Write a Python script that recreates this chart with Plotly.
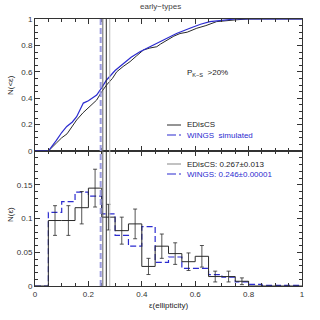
import plotly.graph_objects as go

# ---- data ----
# cumulative distributions (top panel)
cdf_edis_x = [0.0, 0.05, 0.08, 0.10, 0.12, 0.14, 0.156, 0.18, 0.20, 0.231, 0.25, 0.268, 0.29, 0.306, 0.33, 0.356, 0.38, 0.406, 0.43, 0.456, 0.47, 0.493, 0.52, 0.543, 0.57, 0.606, 0.64, 0.68, 0.72, 0.76, 0.80, 1.0]
cdf_edis_y = [0.0, 0.0, 0.06, 0.10, 0.13, 0.19, 0.235, 0.29, 0.33, 0.386, 0.45, 0.50, 0.55, 0.60, 0.64, 0.677, 0.72, 0.765, 0.78, 0.79, 0.81, 0.84, 0.87, 0.89, 0.90, 0.93, 0.95, 0.98, 0.99, 0.995, 1.0, 1.0]
cdf_wings_x = [0.0, 0.05, 0.08, 0.10, 0.119, 0.14, 0.156, 0.181, 0.20, 0.231, 0.25, 0.268, 0.30, 0.331, 0.36, 0.393, 0.43, 0.48, 0.53, 0.58, 0.62, 0.655, 0.70, 0.75, 0.85, 1.0]
cdf_wings_y = [0.0, 0.0, 0.08, 0.14, 0.186, 0.22, 0.26, 0.363, 0.38, 0.424, 0.48, 0.538, 0.61, 0.664, 0.71, 0.752, 0.79, 0.84, 0.89, 0.93, 0.96, 0.98, 0.99, 1.0, 1.0, 1.0]

# histograms (bottom panel), bins of 0.05
bin_edges = [0.0, 0.05, 0.1, 0.15, 0.2, 0.25, 0.3, 0.35, 0.4, 0.45, 0.5, 0.55, 0.6, 0.65, 0.7, 0.75, 0.8, 0.85, 0.9, 0.95, 1.0]
edis_hist = [0.0, 0.097, 0.097, 0.116, 0.145, 0.102, 0.082, 0.092, 0.029, 0.059, 0.048, 0.036, 0.044, 0.014, 0.014, 0.007, 0.0, 0.0, 0.0, 0.0]
edis_err = [0.0, 0.022, 0.022, 0.024, 0.028, 0.019, 0.020, 0.022, 0.012, 0.018, 0.016, 0.013, 0.016, 0.008, 0.008, 0.005, 0.0, 0.0, 0.0, 0.0]
wings_hist = [0.0, 0.109, 0.125, 0.139, 0.133, 0.107, 0.075, 0.059, 0.088, 0.035, 0.043, 0.026, 0.026, 0.017, 0.013, 0.006, 0.0025, 0.001, 0.001, 0.001]

# medians
edis_med, edis_med_err = 0.267, 0.013
wings_med = 0.246

x_ticks = [0, 0.2, 0.4, 0.6, 0.8, 1]
x_ticklabels = ["0", "0.2", "0.4", "0.6", "0.8", "1"]
top_ticks = [0, 0.2, 0.4, 0.6, 0.8, 1]
top_ticklabels = ["0", "0.2", "0.4", "0.6", "0.8", "1"]
bot_ticks = [0, 0.05, 0.1, 0.15]
bot_ticklabels = ["0", "0.05", "0.1", "0.15"]

BLACK = "#2a2a2a"
BLUE = "#2b2bd0"
LBLUE = "#9a9ae0"
FONT = "Liberation Sans"

# plot area in page pixels: x 35..302, y 19..286 (body margin removed via post_script)
PL, PR, PT, PB = 35, 302, 19, 286

fig = go.Figure()

# top panel
fig.add_trace(go.Scatter(x=cdf_edis_x, y=cdf_edis_y, mode="lines", line=dict(color=BLACK, width=1),
                         xaxis="x2", yaxis="y2", showlegend=False))
fig.add_trace(go.Scatter(x=cdf_wings_x, y=cdf_wings_y, mode="lines", line=dict(color=BLUE, width=1.2),
                         xaxis="x2", yaxis="y2", showlegend=False))

# bottom panel histograms
fig.add_trace(go.Scatter(x=bin_edges, y=wings_hist + [wings_hist[-1]], mode="lines",
                         line=dict(color=BLUE, width=1.2, dash="6px,3px"), line_shape="hv",
                         xaxis="x", yaxis="y", showlegend=False))
fig.add_trace(go.Scatter(x=bin_edges, y=edis_hist + [edis_hist[-1]], mode="lines",
                         line=dict(color=BLACK, width=1), line_shape="hv",
                         xaxis="x", yaxis="y", showlegend=False))
centers = [(bin_edges[i] + bin_edges[i + 1]) / 2 for i in range(len(edis_hist))]
cx = [c for c, v in zip(centers, edis_hist) if v > 0]
cy = [v for v in edis_hist if v > 0]
ce = [e for e, v in zip(edis_err, edis_hist) if v > 0]
fig.add_trace(go.Scatter(x=cx, y=cy, mode="lines", line=dict(width=0, color=BLACK),
                         error_y=dict(type="data", array=ce, color=BLACK, thickness=0.8, width=2),
                         xaxis="x", yaxis="y", showlegend=False))

# vertical median lines in both panels
shapes = []
for yref in ["y domain", "y2 domain"]:
    xref = "x" if yref == "y domain" else "x2"
    shapes.append(dict(type="line", xref=xref, yref=yref, x0=wings_med, x1=wings_med, y0=0, y1=1,
                       line=dict(color=LBLUE, width=2, dash="6px,3px")))
    shapes.append(dict(type="line", xref=xref, yref=yref, x0=edis_med - edis_med_err, x1=edis_med - edis_med_err,
                       y0=0, y1=1, line=dict(color="#666666", width=1)))
    shapes.append(dict(type="line", xref=xref, yref=yref, x0=edis_med, x1=edis_med, y0=0, y1=1,
                       line=dict(color=BLACK, width=1)))
    shapes.append(dict(type="line", xref=xref, yref=yref, x0=edis_med + edis_med_err, x1=edis_med + edis_med_err,
                       y0=0, y1=1, line=dict(color="#bbbbbb", width=1)))

# page pixel -> paper coords
def px(x):
    return (x - PL) / (PR - PL)
def py(y):
    return (PB - y) / (PB - PT)

shapes += [
    dict(type="line", xref="paper", yref="paper", x0=px(167), x1=px(181), y0=py(125), y1=py(125),
         line=dict(color=BLACK, width=1)),
    dict(type="line", xref="paper", yref="paper", x0=px(167), x1=px(181), y0=py(135), y1=py(135),
         line=dict(color=BLUE, width=1.2, dash="dashdot")),
    dict(type="line", xref="paper", yref="paper", x0=px(167), x1=px(181), y0=py(164), y1=py(164),
         line=dict(color="#999999", width=1.2)),
    dict(type="line", xref="paper", yref="paper", x0=px(167), x1=px(181), y0=py(174), y1=py(174),
         line=dict(color=BLUE, width=1.2, dash="dashdot")),
]

f = dict(family=FONT, size=8, color="#222222")


def ann(text, x, y, xanchor="left", font=f, **kw):
    return dict(text=text, x=px(x), y=py(y), xref="paper", yref="paper", xanchor=xanchor, yanchor="middle",
                showarrow=False, font=font, **kw)


annotations = [
    ann("early\u2212types", 160, 6, xanchor="center", font=dict(family=FONT, size=8, color="#444444")),
    ann("EDisCS", 185, 125),
    ann("WINGS  simulated", 185, 135, font=dict(family=FONT, size=8, color=BLUE)),
    ann("P<sub>K\u2212S</sub>  >20%", 185, 73),
    ann("EDisCS: 0.267\u00b10.013", 185, 164),
    ann("WINGS: 0.246\u00b10.00001", 185, 174, font=dict(family=FONT, size=8, color=BLUE)),
    ann("N(<\u03b5)", 10, 85, xanchor="center", textangle=-90),
    ann("N(\u03b5)", 10, 215, xanchor="center", textangle=-90),
    ann("\u03b5(ellipticity)", 168, 305, xanchor="center"),
]

split = (PB - 151) / (PB - PT)
axcommon = dict(showgrid=False, zeroline=False, showline=True, linecolor="#333333", linewidth=1, mirror="ticks",
                ticks="inside", ticklen=5, tickcolor="#333333", tickfont=dict(family=FONT, size=8, color="#333333"))

W = 320
fig.update_layout(
    width=W, height=W,
    margin=dict(l=PL, r=W - PR, t=PT, b=W - PB, autoexpand=False),
    plot_bgcolor="white", paper_bgcolor="white", showlegend=False,
    shapes=shapes, annotations=annotations,
    xaxis=dict(domain=[0, 1], range=[0, 1], anchor="y", tickvals=x_ticks, ticktext=x_ticklabels,
               minor=dict(ticks="inside", ticklen=3, dtick=0.05, tickcolor="#333333"), **axcommon),
    yaxis=dict(domain=[0, split], range=[0, 0.2], anchor="x", tickvals=bot_ticks, ticktext=bot_ticklabels,
               minor=dict(ticks="inside", ticklen=3, dtick=0.01, tickcolor="#333333"), **axcommon),
    xaxis2=dict(domain=[0, 1], range=[0, 1], anchor="y2", tickvals=x_ticks, showticklabels=False,
                minor=dict(ticks="inside", ticklen=3, dtick=0.05, tickcolor="#333333"), **axcommon),
    yaxis2=dict(domain=[split, 1], range=[0, 1], anchor="x2", tickvals=top_ticks, ticktext=top_ticklabels,
                minor=dict(ticks="inside", ticklen=3, dtick=0.05, tickcolor="#333333"), **axcommon),
)

fig.write_html("out.html", config={"displayModeBar": False},
               post_script="document.body.style.margin='0px';")
